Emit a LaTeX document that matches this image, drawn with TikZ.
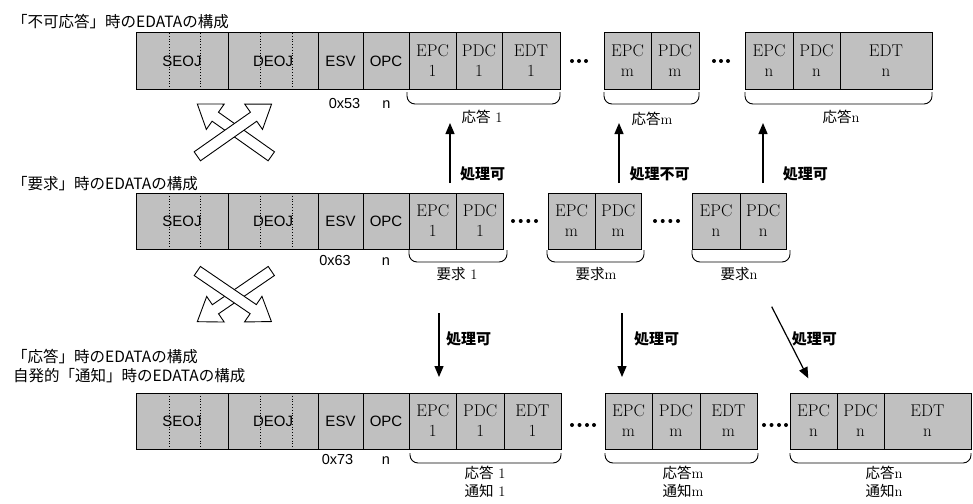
\documentclass[tikz,border=0pt]{standalone}
\usepackage{fontspec}
\newfontfamily\jp{Noto Sans CJK JP}
\newfontfamily\lsans{Liberation Sans}
\usetikzlibrary{arrows.meta,calc}
\definecolor{boxgray}{RGB}{192,192,192}
\tikzset{
 cellst/.style={draw, fill=boxgray, line width=1pt, inner sep=0pt, align=center, font=\fontsize{17}{20}\selectfont},
 sanscell/.style={cellst, font=\lsans\fontsize{15}{17}\selectfont},
 title/.style={anchor=west, inner sep=0pt, font=\jp\fontsize{15.5}{18}\selectfont},
 proc/.style={anchor=west, inner sep=0pt, font=\jp\bfseries\fontsize{15}{18}\selectfont},
 grp/.style={inner sep=0pt, align=center, font=\fontsize{14.5}{18}\selectfont},
 code/.style={anchor=base, inner sep=0pt, font=\lsans\fontsize{14.5}{16}\selectfont},
 brace/.style={line width=0.9pt, rounded corners=8pt},
 flow/.style={line width=1.2pt, -{Triangle[length=11pt,width=9pt]}},
 bigarrow/.style={draw, fill=white, line width=0.9pt, line join=miter},
 sep/.style={dotted, line width=0.8pt},
 dotmark/.style={fill=black},
}
\newcommand{\cellat}[7][cellst]{\node[#1, minimum width={(#4-#3)*1pt}, minimum height={(#6-#5)*1pt}] (#2) at ({(#3+#4)/2},{(#5+#6)/2}) {#7};}
\newcommand{\blockarrow}[4]{\begin{scope}[shift={(#1,#2)}, rotate=#3]
 \draw[bigarrow] (0,-5.5) -- ({#4-22},-5.5) -- ({#4-22},-15.5) -- (#4,0) -- ({#4-22},15.5) -- ({#4-22},5.5) -- (0,5.5) -- cycle;
\end{scope}}
\newcommand{\headrow}[3]{%
 \cellat[sanscell]{seoj#1}{136}{228}{#2}{#3}{SEOJ}
 \cellat[sanscell]{deoj#1}{228}{318}{#2}{#3}{DEOJ}
 \cellat[sanscell]{esv#1}{318}{363}{#2}{#3}{ESV}
 \cellat[sanscell]{opc#1}{363}{409}{#2}{#3}{OPC}
 \draw[sep] (169,#2) -- (169,#3);
 \draw[sep] (200,#2) -- (200,#3);
 \draw[sep] (260,#2) -- (260,#3);
 \draw[sep] (292,#2) -- (292,#3);
}
\newcommand{\bracket}[4]{\draw[brace] (#1,#3) -- (#1,#4) -- (#2,#4) -- (#2,#3);}
\begin{document}
\begin{tikzpicture}[x=1pt,y=-1pt]
\useasboundingbox (0,0) rectangle (973,503);

% titles
\node[title] (t1) at (12,22) {「不可応答」時のEDATAの構成};
\node[title] (t2) at (12,184) {「要求」時のEDATAの構成};
\node[title] (t3) at (12,357) {「応答」時のEDATAの構成};
\node[title] (t4) at (13,376) {自発的「通知」時のEDATAの構成};

% row 1
\headrow{a}{33}{89}
\cellat{epc1a}{409}{456}{33}{89}{EPC\\1}
\cellat{pdc1a}{456}{502}{33}{89}{PDC\\1}
\cellat{edt1a}{502}{560}{33}{89}{EDT\\1}
\cellat{epcma}{604}{651}{33}{89}{EPC\\m}
\cellat{pdcma}{651}{699}{33}{89}{PDC\\m}
\cellat{epcna}{745}{793}{33}{89}{EPC\\n}
\cellat{pdcna}{793}{840}{33}{89}{PDC\\n}
\cellat{edtna}{840}{932}{33}{89}{EDT\\n}
\foreach \x in {572,579,586} \fill[dotmark] (\x,61) circle (2);
\foreach \x in {714,721,728} \fill[dotmark] (\x,61) circle (2);
\bracket{407}{560}{92}{104}
\bracket{604}{699}{92}{104}
\bracket{745}{932}{92}{104}
\node[code] (c1) at (344.5,108) {0x53};
\node[code] (n1) at (386.5,108) {n};
\node[grp] (g1) at (482,117) {{\jp 応答} 1};
\node[grp] (g2) at (652,119) {{\jp 応答}m};
\node[grp] (g3) at (841,117) {{\jp 応答}n};

% row 2
\headrow{b}{193}{249}
\cellat{epc1b}{409}{456.5}{193}{249}{EPC\\1}
\cellat{pdc1b}{456.5}{503.5}{193}{249}{PDC\\1}
\cellat{epcmb}{548}{595}{193}{249}{EPC\\m}
\cellat{pdcmb}{595}{641.5}{193}{249}{PDC\\m}
\cellat{epcnb}{692}{740}{193}{249}{EPC\\n}
\cellat{pdcnb}{740}{786.5}{193}{249}{PDC\\n}
\foreach \x in {513,520.7,528.3,536} \fill[dotmark] (\x,221) circle (2);
\foreach \x in {655,662.7,670.3,678} \fill[dotmark] (\x,221) circle (2);
\bracket{409}{507}{250}{262}
\bracket{547}{644}{250}{262}
\bracket{692}{790}{250}{262}
\node[code] (c2) at (335,265) {0x63};
\node[code] (n2) at (386,265) {n};
\node[grp] (g4) at (457,274) {{\jp 要求} 1};
\node[grp] (g5) at (596,274) {{\jp 要求}m};
\node[grp] (g6) at (739,274) {{\jp 要求}n};

% row 3
\headrow{c}{393}{449}
\cellat{epc1c}{409}{456.5}{393}{449}{EPC\\1}
\cellat{pdc1c}{456.5}{504}{393}{449}{PDC\\1}
\cellat{edt1c}{504}{561}{393}{449}{EDT\\1}
\cellat{epcmc}{605}{652}{393}{449}{EPC\\m}
\cellat{pdcmc}{652}{700}{393}{449}{PDC\\m}
\cellat{edtmc}{700}{757}{393}{449}{EDT\\m}
\cellat{epcnc}{790}{837}{393}{449}{EPC\\n}
\cellat{pdcnc}{837}{884}{393}{449}{PDC\\n}
\cellat{edtnc}{884}{971}{393}{449}{EDT\\n}
\foreach \x in {572,579.5,587,594} \fill[dotmark] (\x,425) circle (2);
\foreach \x in {764,771.5,779,786} \fill[dotmark] (\x,425) circle (2);
\bracket{410}{561}{453}{463}
\bracket{605}{758}{453}{463}
\bracket{790}{971}{453}{463}
\node[code] (c3) at (337.5,464) {0x73};
\node[code] (n3) at (386,464) {n};
\node[grp] (g7) at (485,482) {{\jp 応答} 1\\{\jp 通知} 1};
\node[grp] (g8) at (683,482) {{\jp 応答}m\\{\jp 通知}m};
\node[grp] (g9) at (884,482) {{\jp 応答}n\\{\jp 通知}n};

% flow arrows up
\coordinate (u1s) at (450,183); \coordinate (u1e) at (450,123);
\coordinate (u2s) at (619,183); \coordinate (u2e) at (619,123);
\coordinate (u3s) at (763,183); \coordinate (u3e) at (763,123);
\draw[flow] (u1s) -- (u1e);
\draw[flow] (u2s) -- (u2e);
\draw[flow] (u3s) -- (u3e);
\node[proc] (p1) at (460,174) {処理可};
\node[proc] (p2) at (629.5,174) {処理不可};
\node[proc] (p3) at (782.6,174) {処理可};

% flow arrows down
\coordinate (d1s) at (439,313); \coordinate (d1e) at (439,377);
\coordinate (d2s) at (622,313); \coordinate (d2e) at (622,377);
\coordinate (d3s) at (771.7,306.7); \coordinate (d3e) at (808.3,378.3);
\draw[flow] (d1s) -- (d1e);
\draw[flow] (d2s) -- (d2e);
\draw[flow] (d3s) -- (d3e);
\node[proc] (p4) at (446,339) {処理可};
\node[proc] (p5) at (634,339) {処理可};
\node[proc] (p6) at (791.7,339) {処理可};

% crossed block arrows
\blockarrow{271.3}{156.3}{144.75}{90.6}
\blockarrow{197.3}{156.3}{35.1}{90.8}
\blockarrow{271.3}{271}{214.4}{89.7}
\blockarrow{197.3}{271}{-34.3}{89.7}
\end{tikzpicture}
\end{document}
